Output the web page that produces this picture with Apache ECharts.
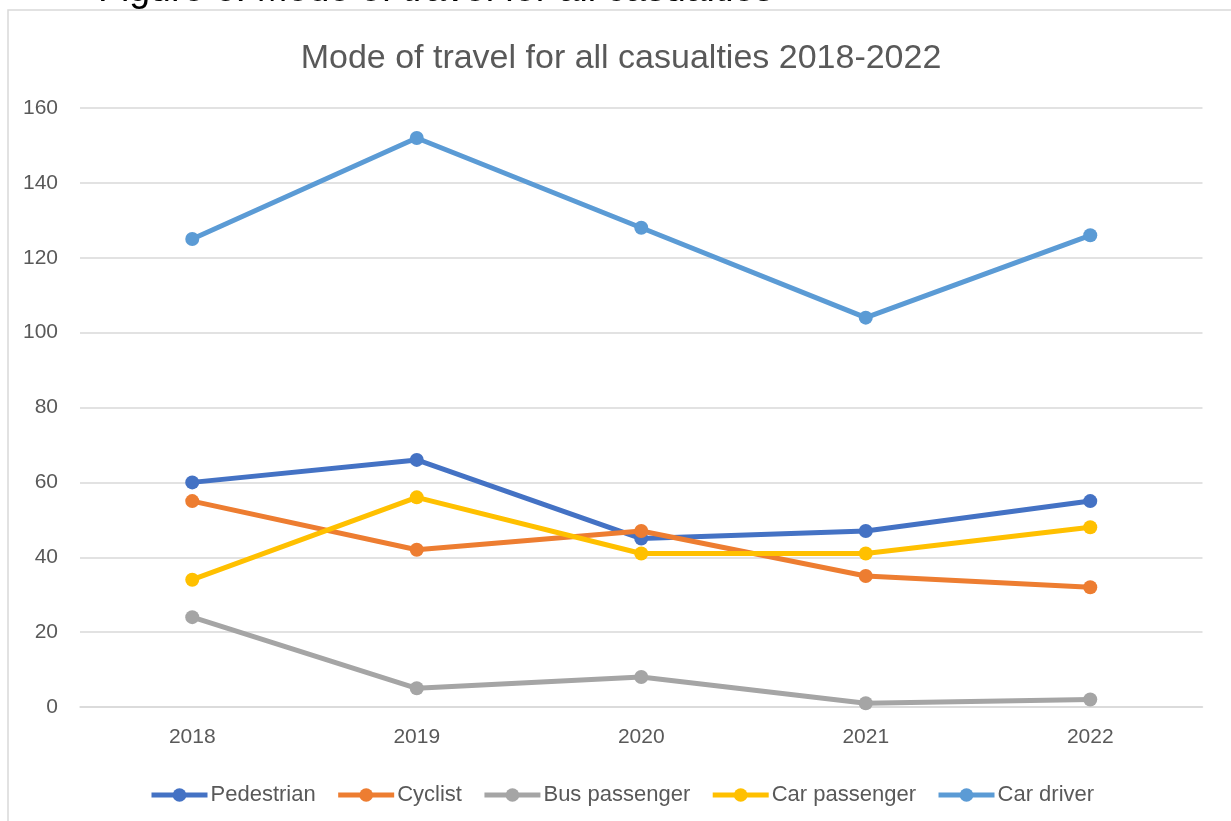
<!DOCTYPE html>
<html>
<head>
<meta charset="utf-8">
<script src="https://cdn.jsdelivr.net/npm/echarts@6/dist/echarts.min.js"></script>
<style>
  html, body { margin: 0; padding: 0; background: #fff; }
  #chart { width: 1231px; height: 821px; }
</style>
</head>
<body>
<div id="chart"></div>
<script>
// Casualties by mode of travel, 2018-2022
const years = ['2018', '2019', '2020', '2021', '2022'];
const pedestrian   = [60, 66, 45, 47, 55];
const cyclist      = [55, 42, 47, 35, 32];
const busPassenger = [24, 5, 8, 1, 2];
const carPassenger = [34, 56, 41, 41, 48];
const carDriver    = [125, 152, 128, 104, 126];
const yTicks = [0, 20, 40, 60, 80, 100, 120, 140, 160];

const seriesDefs = [
  { name: 'Pedestrian',    data: pedestrian,   color: '#4472C4' },
  { name: 'Cyclist',       data: cyclist,      color: '#ED7D31' },
  { name: 'Bus passenger', data: busPassenger, color: '#A5A5A5' },
  { name: 'Car passenger', data: carPassenger, color: '#FFC000' },
  { name: 'Car driver',    data: carDriver,    color: '#5B9BD5' }
];

const FONT = "'Liberation Sans', Arial, sans-serif";

const chart = echarts.init(document.getElementById('chart'), null, { renderer: 'canvas' });

chart.setOption({
  animation: false,
  backgroundColor: '#ffffff',
  title: {
    text: 'Mode of travel for all casualties 2018-2022',
    left: 616,
    top: 37,
    textAlign: 'center',
    textStyle: { fontFamily: FONT, fontSize: 34, fontWeight: 'normal', color: '#595959' }
  },
  graphic: [
    {
      type: 'rect',
      shape: { x: 8, y: 10, width: 1400, height: 1000 },
      style: { fill: 'none', stroke: '#d9d9d9', lineWidth: 1.5 },
      silent: true
    },
    {
      type: 'text',
      x: 98,
      y: -28,
      style: {
        text: 'Figure 6: Mode of travel for all casualties',
        font: "37.5px 'Liberation Sans', Arial, sans-serif",
        fill: '#000000'
      },
      silent: true
    }
  ],
  legend: {
    bottom: 10,
    left: 144,
    itemWidth: 56,
    itemHeight: 17,
    itemGap: 20,
    lineStyle: { width: 5 },
    textStyle: { fontFamily: FONT, fontSize: 22, color: '#595959', padding: [0, 0, 0, -2] },
    data: seriesDefs.map(s => s.name)
  },
  grid: { left: 80, right: 28.5, top: 108, bottom: 114, containLabel: false },
  xAxis: {
    type: 'category',
    data: years,
    boundaryGap: true,
    axisLine: { show: true, lineStyle: { color: '#d9d9d9', width: 1.5 } },
    axisTick: { show: false },
    axisLabel: { margin: 20, fontFamily: FONT, fontSize: 21, color: '#595959' }
  },
  yAxis: {
    type: 'value',
    min: yTicks[0],
    max: yTicks[yTicks.length - 1],
    interval: 20,
    axisLine: { show: false },
    axisTick: { show: false },
    axisLabel: { margin: 22, fontFamily: FONT, fontSize: 21, color: '#595959' },
    splitLine: { lineStyle: { color: '#d9d9d9', width: 1.5 } }
  },
  series: seriesDefs.map(s => ({
    name: s.name,
    type: 'line',
    data: s.data,
    symbol: 'circle',
    symbolSize: 14,
    showSymbol: true,
    lineStyle: { color: s.color, width: 5 },
    itemStyle: { color: s.color },
    emphasis: { disabled: true }
  }))
});
</script>
</body>
</html>
